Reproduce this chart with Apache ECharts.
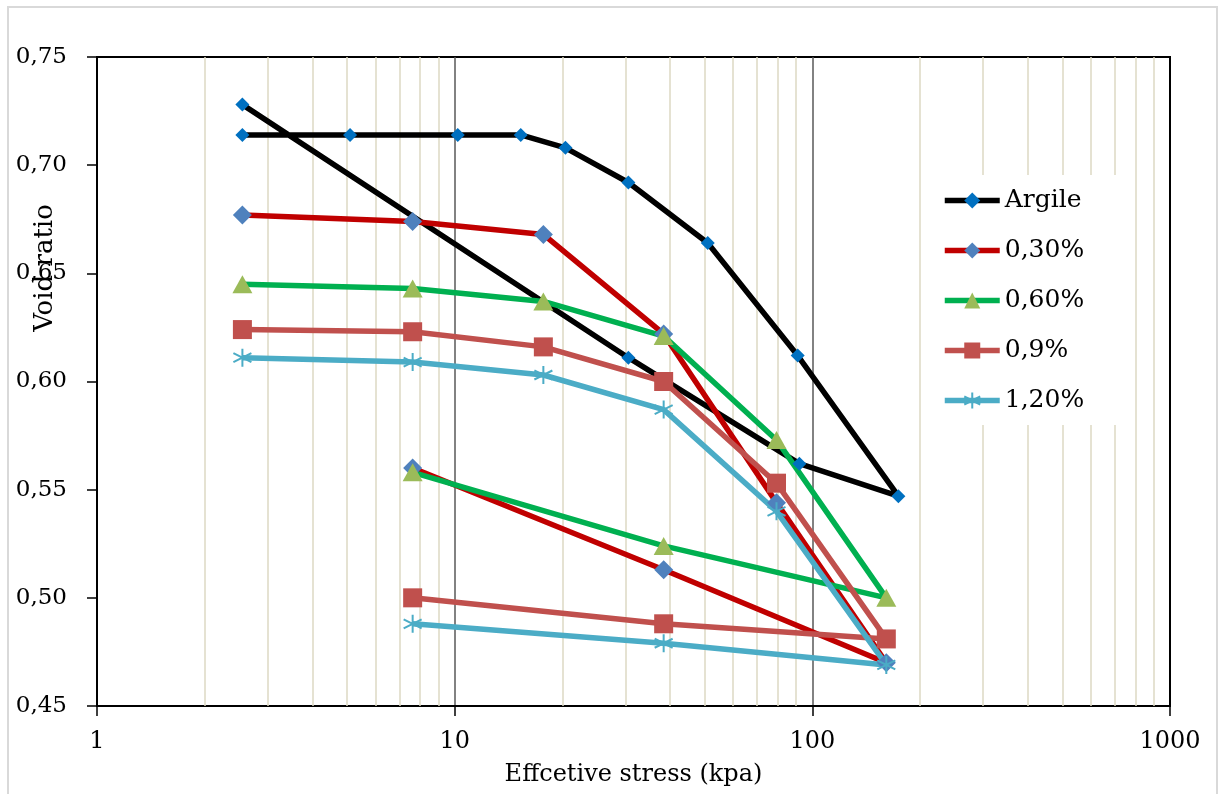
<!DOCTYPE html>
<html>
<head>
<meta charset="utf-8">
<script src="https://cdn.jsdelivr.net/npm/echarts@6/dist/echarts.min.js"></script>
<style>
  html, body { margin: 0; padding: 0; background: #fff; }
  #chart { width: 1219px; height: 794px; }
</style>
</head>
<body>
<div id="chart"></div>
<script>
// clay alone: loading then unloading path
const argileStress = [2.55, 5.1, 10.2, 15.3, 20.4, 30.6, 51, 91, 174, 92, 30.6, 2.55];
const argileVoid = [0.714, 0.714, 0.714, 0.714, 0.708, 0.692, 0.664, 0.612, 0.547, 0.562, 0.611, 0.728];

// treated samples share the same stress steps
const mixStress = [2.55, 7.63, 17.7, 38.4, 79.4, 161, 38.4, 7.63];
const void030 = [0.677, 0.674, 0.668, 0.622, 0.544, 0.470, 0.513, 0.560];
const void060 = [0.645, 0.643, 0.637, 0.621, 0.573, 0.500, 0.524, 0.558];
const void090 = [0.624, 0.623, 0.616, 0.600, 0.553, 0.481, 0.488, 0.500];
const void120 = [0.611, 0.609, 0.603, 0.587, 0.540, 0.469, 0.479, 0.488];

const seriesNames = ['Argile', '0,30%', '0,60%', '0,9%', '1,20%'];
const minorGrid = [2, 3, 4, 5, 6, 7, 8, 9, 20, 30, 40, 50, 60, 70, 80, 90, 200, 300, 400, 500, 600, 700, 800, 900];

const FONT = '"DejaVu Serif", "Liberation Serif", serif';
const ASTERISK = 'path://M10,0L10,20M1.3,5L18.7,15M1.3,15L18.7,5';

const pairs = (xs, ys) => xs.map((x, i) => [x, ys[i]]);

function lineSeries(name, xs, ys, color, symbol, symbolSize, markerColor, extra) {
  return Object.assign({
    name, type: 'line', data: pairs(xs, ys), z: 2,
    symbol, symbolSize,
    lineStyle: { color, width: 5.5 },
    itemStyle: { color: markerColor },
    emphasis: { disabled: true }
  }, extra || {});
}

const chart = echarts.init(document.getElementById('chart'));
chart.setOption({
  animation: false,
  backgroundColor: '#fff',
  grid: { left: 97, right: 49, top: 57, bottom: 88, show: true, borderColor: '#000', borderWidth: 2, backgroundColor: 'transparent' },
  graphic: [
    { type: 'rect', shape: { x: 8, y: 7, width: 1209, height: 800 }, style: { fill: 'none', stroke: '#d9d9d9', lineWidth: 2 }, silent: true },
    { type: 'text', x: 45, y: 268, rotation: Math.PI / 2, z: 10,
      style: { text: 'Void ratio', fontSize: 26, fontFamily: FONT, fill: '#000', align: 'center', verticalAlign: 'middle' } }
  ],
  legend: {
    data: seriesNames, orient: 'vertical', left: 925, top: 175,
    padding: [13, 42, 12, 17], itemGap: 25, itemWidth: 55, itemHeight: 20,
    backgroundColor: '#fff', selectedMode: false,
    lineStyle: { width: 5.5 },
    textStyle: { fontSize: 25, fontFamily: FONT, color: '#000' }
  },
  xAxis: {
    type: 'log', logBase: 10, min: 1, max: 1000,
    name: 'Effcetive stress (kpa)', nameLocation: 'middle', nameGap: 57,
    nameTextStyle: { fontSize: 24, fontFamily: FONT, color: '#000' },
    axisLine: { lineStyle: { color: '#000', width: 2 } },
    axisTick: { show: true, length: 10, lineStyle: { color: '#000', width: 1.5 } },
    axisLabel: { fontSize: 24, fontFamily: FONT, color: '#000', margin: 24, formatter: v => String(v) },
    splitLine: { show: true, showMinLine: false, showMaxLine: false, lineStyle: { color: '#595959', width: 1.5 } }
  },
  yAxis: {
    type: 'value', min: 0.45, max: 0.75, interval: 0.05,
    axisLine: { show: true, lineStyle: { color: '#000', width: 2 } },
    axisTick: { show: true, length: 10, lineStyle: { color: '#000', width: 1.5 } },
    axisLabel: { fontSize: 23, fontFamily: FONT, color: '#000', margin: 30, formatter: v => v.toFixed(2).replace('.', ',') },
    splitLine: { show: false }
  },
  series: [
    {
      name: 'minor-grid', type: 'line', data: [], z: 1, silent: true,
      markLine: {
        z: 1, silent: true, symbol: ['none', 'none'], label: { show: false },
        lineStyle: { color: '#ddd9c3', width: 1.5, type: 'solid' },
        emphasis: { disabled: true },
        data: minorGrid.map(v => ({ xAxis: v }))
      }
    },
    lineSeries('Argile', argileStress, argileVoid, '#000000', 'diamond', 14, '#0070c0'),
    lineSeries('0,30%', mixStress, void030, '#c00000', 'diamond', 19, '#4f81bd'),
    lineSeries('0,60%', mixStress, void060, '#00b050', 'triangle', [20, 18], '#9bbb59'),
    lineSeries('0,9%', mixStress, void090, '#c0504d', 'rect', 19, '#c0504d'),
    lineSeries('1,20%', mixStress, void120, '#4bacc6', ASTERISK, 18, '#4bacc6', {
      itemStyle: { color: '#4bacc6', borderColor: '#4bacc6', borderWidth: 2 }
    })
  ]
});
</script>
</body>
</html>
